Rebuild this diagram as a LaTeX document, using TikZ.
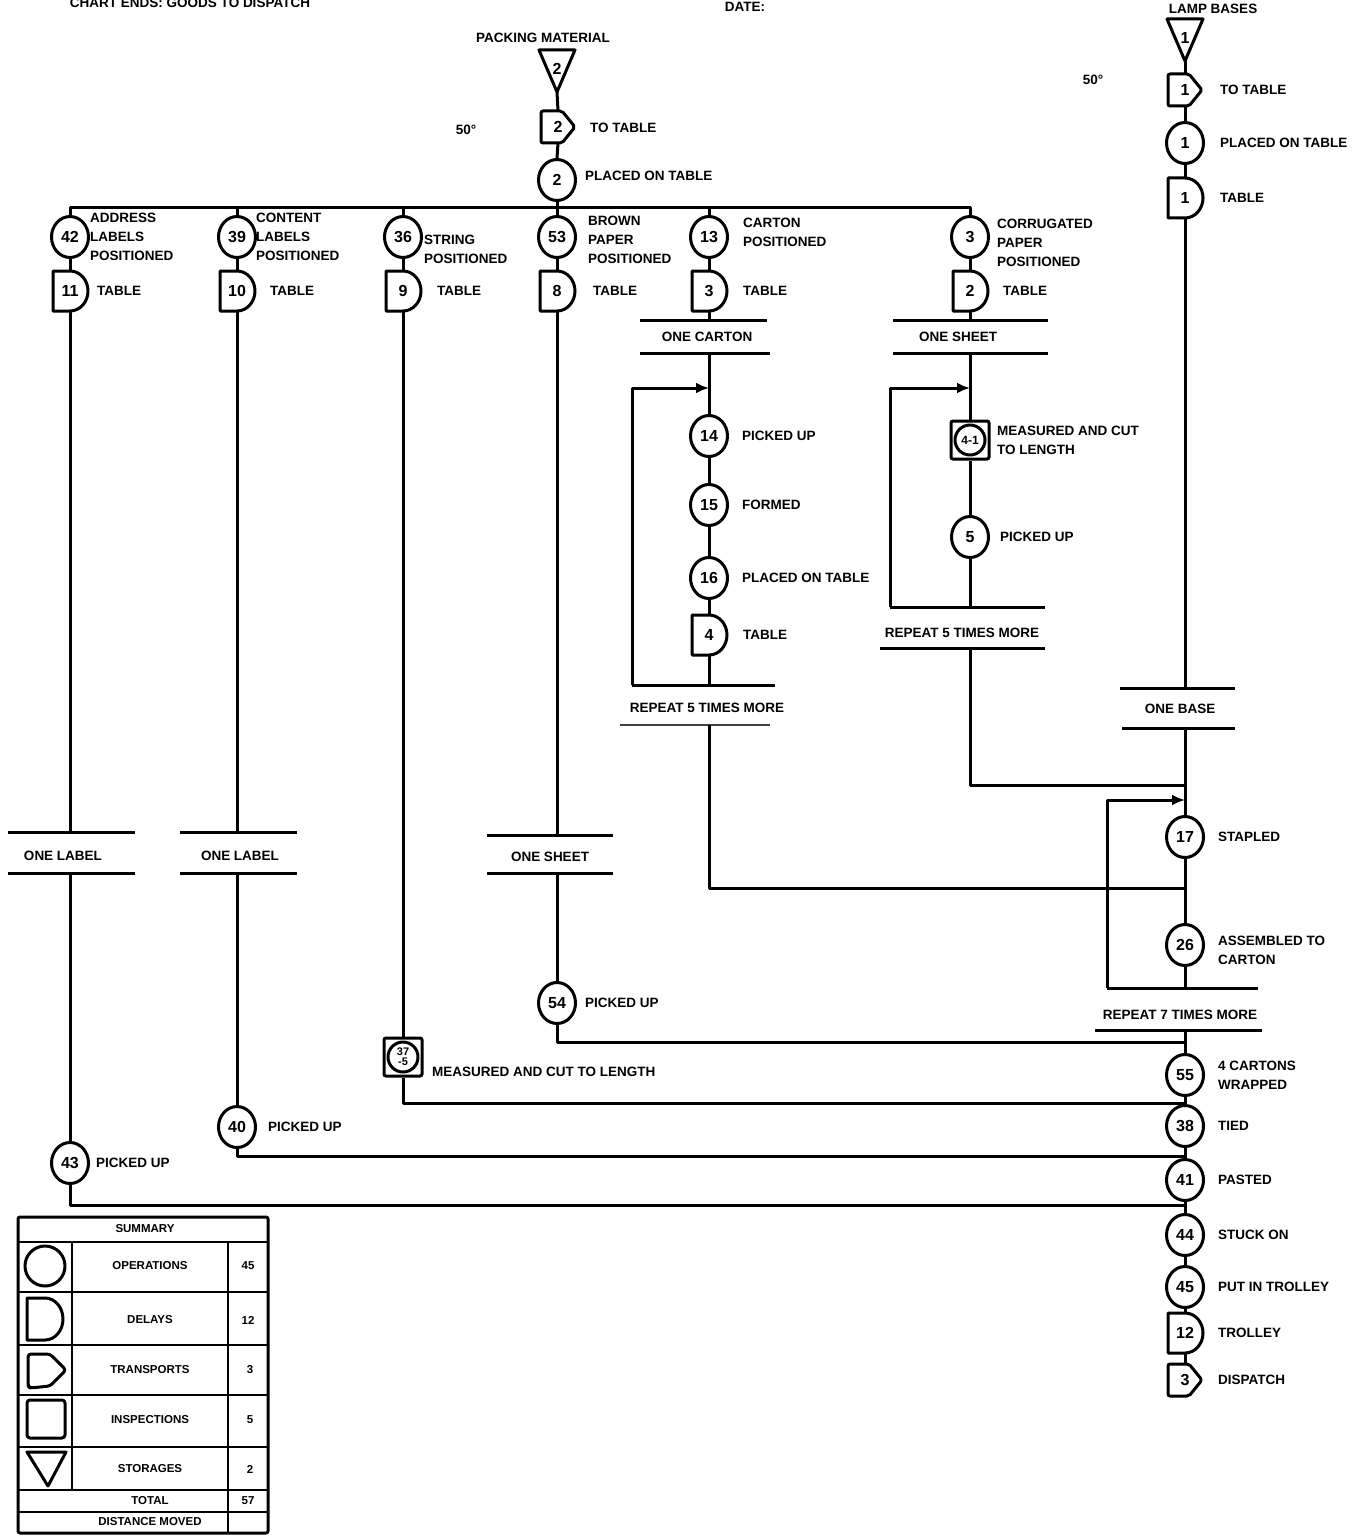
\documentclass[tikz,border=0pt]{standalone}
\usepackage{fontspec}
\setmainfont{Liberation Sans}
\usetikzlibrary{shapes.geometric,arrows.meta}
\newcommand{\lblfont}{\fontsize{13.5}{19}\selectfont\bfseries}
\newcommand{\numfont}{\fontsize{16}{16}\selectfont\bfseries}
\newcommand{\legfont}{\fontsize{11.5}{12}\selectfont\bfseries}
\newcommand{\Dshape}[1]{\draw[shp,shift={(#1)}] (-17,20) -- (0,20) arc[start angle=90,end angle=-90,x radius=18pt,y radius=20pt] -- (-17,-20) -- cycle;}
\newcommand{\Tshape}[1]{\draw[shp,shift={(#1)},rounded corners=2pt] (-17,16) -- (4,16) -- (17,0) -- (4,-16) -- (-17,-16) -- cycle;}
\newcommand{\Sshape}[1]{\draw[shp,shift={(#1)}] (-18,21) -- (18,21) -- (0,-21) -- cycle;}
\tikzset{
  ln/.style={line width=3pt, line join=round},
  bar/.style={line width=3pt},
  thinbar/.style={line width=2pt, black!75},
  shp/.style={line width=3pt, line join=round},
  op/.style={ellipse, draw, line width=3pt, minimum width=37pt, minimum height=41pt, inner sep=0pt, font=\numfont},
  dbox/.style={minimum width=34pt, minimum height=40pt, inner sep=0pt, font=\numfont},
  tbox/.style={minimum width=34pt, minimum height=32pt, inner sep=0pt, font=\numfont},
  sbox/.style={minimum width=36pt, minimum height=42pt, inner sep=0pt, font=\numfont},
  insp/.style={rectangle, draw, line width=3pt, rounded corners=2pt, minimum width=38pt, minimum height=38pt, inner sep=0pt, align=center, font=\numfont},
  lbl/.style={anchor=west, align=left, font=\lblfont, inner sep=0pt},
  ctr/.style={font=\lblfont, inner sep=0pt},
  arr/.style={ln, -{Latex[length=13pt,width=11pt]}}
}
\begin{document}
\begin{tikzpicture}[x=1pt,y=1pt]
\useasboundingbox (0,0) rectangle (1363,-1538);
% ---------- header texts
\node[ctr] (hdr) at (190,-3) {CHART ENDS: GOODS TO DISPATCH};
\node[ctr] (date) at (745,-7) {DATE:};
\node[ctr] (pm) at (543,-38) {PACKING MATERIAL};
\node[ctr] (lb) at (1213,-9) {LAMP BASES};
\node[ctr] (deg1) at (466,-130) {50°};
\node[ctr] (deg2) at (1093,-80) {50°};

% ---------- packing material column
\node[sbox] (s2) at (557,-71) {\raisebox{5pt}{2}};
\Sshape{s2}
\node[tbox] (t2) at (558,-127) {2};
\Tshape{t2}
\node[lbl] (lt2) at (590,-128) {TO TABLE};
\node[op] (c2) at (557,-180) {2};
\node[lbl] (lc2) at (585,-176) {PLACED ON TABLE};
\draw[ln] (s2.south) -- (t2.north);
\draw[ln] (t2.south) -- (c2.north);

% ---------- branch operations
\node[op] (c42) at (70,-237) {42};
\node[op] (c39) at (237,-237) {39};
\node[op] (c36) at (403,-237) {36};
\node[op] (c53) at (557,-237) {53};
\node[op] (c13) at (709,-237) {13};
\node[op] (c3) at (970,-237) {3};
\coordinate (hb) at (557,-208);
\draw[ln] (c2.south) -- (c53.north);
\draw[ln] (c42.north) |- (hb) -| (c3.north);
\draw[ln] (c39.north) -- (c39.north |- hb);
\draw[ln] (c36.north) -- (c36.north |- hb);
\draw[ln] (c13.north) -- (c13.north |- hb);

\node[lbl] (l42) at (90,-237) {ADDRESS\\LABELS\\POSITIONED};
\node[lbl] (l39) at (256,-237) {CONTENT\\LABELS\\POSITIONED};
\node[lbl] (l36) at (424,-249) {STRING\\POSITIONED};
\node[lbl] (l53) at (588,-240) {BROWN\\PAPER\\POSITIONED};
\node[lbl] (l13) at (743,-232) {CARTON\\POSITIONED};
\node[lbl] (l3) at (997,-243) {CORRUGATED\\PAPER\\POSITIONED};

% ---------- first delays
\node[dbox] (d11) at (70,-291) {11};  \Dshape{d11}
\node[dbox] (d10) at (237,-291) {10}; \Dshape{d10}
\node[dbox] (d9) at (403,-291) {9};   \Dshape{d9}
\node[dbox] (d8) at (557,-291) {8};   \Dshape{d8}
\node[dbox] (d3) at (709,-291) {3};   \Dshape{d3}
\node[dbox] (d2) at (970,-291) {2};   \Dshape{d2}
\node[lbl] (ld11) at (97,-291) {TABLE};
\node[lbl] (ld10) at (270,-291) {TABLE};
\node[lbl] (ld9) at (437,-291) {TABLE};
\node[lbl] (ld8) at (593,-291) {TABLE};
\node[lbl] (ld3) at (743,-291) {TABLE};
\node[lbl] (ld2) at (1003,-291) {TABLE};
\draw[ln] (c42.south) -- (d11.north);
\draw[ln] (c39.south) -- (d10.north);
\draw[ln] (c36.south) -- (d9.north);
\draw[ln] (c53.south) -- (d8.north);
\draw[ln] (c13.south) -- (d3.north);
\draw[ln] (c3.south) -- (d2.north);

% ---------- junction points on the main (right) line
\coordinate (j16) at (1185,-785);
\coordinate (j17) at (1185,-888);
\coordinate (j2) at (1185,-1042);
\coordinate (j3) at (1185,-1103);
\coordinate (j4) at (1185,-1156);
\coordinate (j5) at (1185,-1205);

% ---------- column: address labels
\coordinate (u42t) at (70,-832); \coordinate (u42b) at (70,-873);
\draw[bar] (8,-832) -- (135,-832);
\draw[bar] (8,-873) -- (135,-873);
\node[ctr] (u42) at (63,-856) {ONE LABEL};
\draw[ln] (d11.south) -- (u42t);
\node[op] (c43) at (70,-1163) {43};
\node[lbl] (l43) at (96,-1163) {PICKED UP};
\draw[ln] (u42b) -- (c43.north);
\draw[ln] (c43.south) |- (j5);

% ---------- column: content labels
\coordinate (u39t) at (237,-832); \coordinate (u39b) at (237,-873);
\draw[bar] (180,-832) -- (297,-832);
\draw[bar] (180,-873) -- (297,-873);
\node[ctr] (u39) at (240,-856) {ONE LABEL};
\draw[ln] (d10.south) -- (u39t);
\node[op] (c40) at (237,-1127) {40};
\node[lbl] (l40) at (268,-1127) {PICKED UP};
\draw[ln] (u39b) -- (c40.north);
\draw[ln] (c40.south) |- (j4);

% ---------- column: string
\node[insp] (i37) at (403,-1057) {};
\draw[shp] (i37) circle[radius=15pt];
\node[font=\fontsize{11}{10}\selectfont\bfseries, align=center, inner sep=0pt] (n37) at (i37) {37\\-5};
\node[lbl] (l37) at (432,-1072) {MEASURED AND CUT TO LENGTH};
\draw[ln] (d9.south) -- (i37.north);
\draw[ln] (i37.south) |- (j3);

% ---------- column: brown paper
\coordinate (u53t) at (557,-835); \coordinate (u53b) at (557,-873);
\draw[bar] (487,-835) -- (613,-835);
\draw[bar] (487,-873) -- (613,-873);
\node[ctr] (u53) at (550,-857) {ONE SHEET};
\draw[ln] (d8.south) -- (u53t);
\node[op] (c54) at (557,-1003) {54};
\node[lbl] (l54) at (585,-1003) {PICKED UP};
\draw[ln] (u53b) -- (c54.north);
\draw[ln] (c54.south) |- (j2);

% ---------- column: carton
\coordinate (u13t) at (709,-320); \coordinate (u13b) at (709,-353);
\draw[bar] (640,-320) -- (767,-320);
\draw[bar] (640,-353) -- (770,-353);
\node[ctr] (u13) at (707,-337) {ONE CARTON};
\draw[ln] (d3.south) -- (u13t);
\coordinate (a13) at (709,-388);
\node[op] (c14) at (709,-436) {14};
\node[op] (c15) at (709,-505) {15};
\node[op] (c16) at (709,-578) {16};
\node[dbox] (d4) at (709,-635) {4}; \Dshape{d4}
\node[lbl] (l14) at (742,-436) {PICKED UP};
\node[lbl] (l15) at (742,-505) {FORMED};
\node[lbl] (l16) at (742,-578) {PLACED ON TABLE};
\node[lbl] (l4) at (743,-635) {TABLE};
\draw[ln] (u13b) -- (c14.north);
\draw[ln] (c14.south) -- (c15.north);
\draw[ln] (c15.south) -- (c16.north);
\draw[ln] (c16.south) -- (d4.north);
\coordinate (r13) at (709,-685); \coordinate (r13l) at (632,-685); \coordinate (r13r) at (775,-685);
\draw[ln] (d4.south) -- (r13);
\draw[bar] (r13l) -- (r13r);
\draw[arr] (r13l) |- (a13);
\node[ctr] (rp13) at (707,-708) {REPEAT 5 TIMES MORE};
\draw[thinbar] (620,-725) -- (770,-725);
\coordinate (u13c) at (709,-725);
\draw[ln] (u13c) |- (j17);

% ---------- column: corrugated paper
\coordinate (u3t) at (970,-320); \coordinate (u3b) at (970,-353);
\draw[bar] (893,-320) -- (1048,-320);
\draw[bar] (893,-353) -- (1048,-353);
\node[ctr] (u3) at (958,-337) {ONE SHEET};
\draw[ln] (d2.south) -- (u3t);
\coordinate (a3) at (970,-388);
\node[insp] (i4) at (970,-440) {};
\draw[shp] (i4) circle[radius=15pt];
\node[font=\fontsize{12}{12}\selectfont\bfseries, inner sep=0pt] (n4) at (i4) {4-1};
\node[lbl] (l4a) at (997,-440) {MEASURED AND CUT\\TO LENGTH};
\node[op] (c5) at (970,-537) {5};
\node[lbl] (l5) at (1000,-537) {PICKED UP};
\draw[ln] (u3b) -- (i4.north);
\draw[ln] (i4.south) -- (c5.north);
\coordinate (r3) at (970,-607); \coordinate (r3l) at (890,-607); \coordinate (r3r) at (1045,-607);
\draw[ln] (c5.south) -- (r3);
\draw[bar] (r3l) -- (r3r);
\draw[arr] (r3l) |- (a3);
\node[ctr] (rp3) at (962,-633) {REPEAT 5 TIMES MORE};
\draw[bar] (880,-648) -- (1045,-648);
\coordinate (u3c) at (970,-648);
\draw[ln] (u3c) |- (j16);

% ---------- column: lamp bases (main line)
\node[sbox] (s1) at (1185,-40) {\raisebox{5pt}{1}};
\Sshape{s1}
\node[tbox] (t1) at (1185,-90) {1};
\Tshape{t1}
\node[op] (c1) at (1185,-143) {1};
\node[dbox] (d1) at (1185,-198) {1}; \Dshape{d1}
\node[lbl] (lt1) at (1220,-90) {TO TABLE};
\node[lbl] (lc1) at (1220,-143) {PLACED ON TABLE};
\node[lbl] (ld1) at (1220,-198) {TABLE};
\draw[ln] (s1.south) -- (t1.north);
\draw[ln] (t1.south) -- (c1.north);
\draw[ln] (c1.south) -- (d1.north);
\coordinate (uRt) at (1185,-688); \coordinate (uRb) at (1185,-728);
\draw[bar] (1120,-688) -- (1235,-688);
\draw[bar] (1122,-728) -- (1235,-728);
\node[ctr] (uR) at (1180,-709) {ONE BASE};
\draw[ln] (d1.south) -- (uRt);

\coordinate (aR) at (1185,-800);
\node[op] (c17) at (1185,-837) {17};
\node[op] (c26) at (1185,-945) {26};
\node[lbl] (l17) at (1218,-837) {STAPLED};
\node[lbl] (l26) at (1218,-950) {ASSEMBLED TO\\CARTON};
\draw[ln] (uRb) -- (c17.north);
\draw[ln] (c17.south) -- (c26.north);
\coordinate (rR) at (1185,-988); \coordinate (rRl) at (1107,-988); \coordinate (rRr) at (1258,-988);
\draw[ln] (c26.south) -- (rR);
\draw[bar] (rRl) -- (rRr);
\draw[arr] (rRl) |- (aR);
\node[ctr] (rpR) at (1180,-1015) {REPEAT 7 TIMES MORE};
\draw[bar] (1095,-1030) -- (1262,-1030);
\coordinate (uRc) at (1185,-1030);

\node[op] (c55) at (1185,-1075) {55};
\node[op] (c38) at (1185,-1126) {38};
\node[op] (c41) at (1185,-1180) {41};
\node[op] (c44) at (1185,-1235) {44};
\node[op] (c45) at (1185,-1287) {45};
\node[dbox] (d12) at (1185,-1333) {12}; \Dshape{d12}
\node[tbox] (t3) at (1185,-1380) {3}; \Tshape{t3}
\node[lbl] (l55) at (1218,-1075) {4 CARTONS\\WRAPPED};
\node[lbl] (l38) at (1218,-1126) {TIED};
\node[lbl] (l41) at (1218,-1180) {PASTED};
\node[lbl] (l44) at (1218,-1235) {STUCK ON};
\node[lbl] (l45) at (1218,-1287) {PUT IN TROLLEY};
\node[lbl] (l12) at (1218,-1333) {TROLLEY};
\node[lbl] (l3t) at (1218,-1380) {DISPATCH};
\draw[ln] (uRc) -- (c55.north);
\draw[ln] (c55.south) -- (c38.north);
\draw[ln] (c38.south) -- (c41.north);
\draw[ln] (c41.south) -- (c44.north);
\draw[ln] (c44.south) -- (c45.north);
\draw[ln] (c45.south) -- (d12.north);
\draw[ln] (d12.south) -- (t3.north);

% ---------- summary table
\draw[shp, rounded corners=2pt] (18,-1217) rectangle (268,-1533);
\foreach \yy in {-1242,-1292,-1345,-1395,-1447,-1490,-1512} {\draw[line width=2.4pt] (18,\yy) -- (268,\yy);}
\draw[line width=2.4pt] (72,-1242) -- (72,-1490);
\draw[line width=2.4pt] (228,-1242) -- (228,-1533);
\node[font=\legfont] (sumt) at (145,-1229) {SUMMARY};
\node[font=\legfont] (so) at (150,-1266) {OPERATIONS};
\node[font=\legfont] (sd) at (150,-1320) {DELAYS};
\node[font=\legfont] (st) at (150,-1370) {TRANSPORTS};
\node[font=\legfont] (si) at (150,-1420) {INSPECTIONS};
\node[font=\legfont] (ss) at (150,-1469) {STORAGES};
\node[font=\legfont] (stot) at (150,-1501) {TOTAL};
\node[font=\legfont] (sdm) at (150,-1522) {DISTANCE MOVED};
\node[font=\legfont] (vo) at (248,-1266) {45};
\node[font=\legfont] (vd) at (248,-1320) {12};
\node[font=\legfont] (vt) at (250,-1370) {3};
\node[font=\legfont] (vi) at (250,-1420) {5};
\node[font=\legfont] (vs) at (250,-1469) {2};
\node[font=\legfont] (vtot) at (248,-1501) {57};
\draw[shp] (45,-1266) circle[radius=20pt];
\draw[shp] (27,-1298) -- (45,-1298) arc[start angle=90,end angle=-90,x radius=18pt,y radius=21pt] -- (27,-1340) -- cycle;
\draw[shp, rounded corners=3pt] (28,-1354) -- (50,-1354) -- (66,-1370) -- (50,-1386) -- (30,-1388) -- (28,-1386) -- cycle;
\draw[shp, rounded corners=3pt] (27,-1400) rectangle (65,-1438);
\draw[shp] (27,-1452) -- (66,-1452) -- (48,-1486) -- cycle;
\end{tikzpicture}
\end{document}
